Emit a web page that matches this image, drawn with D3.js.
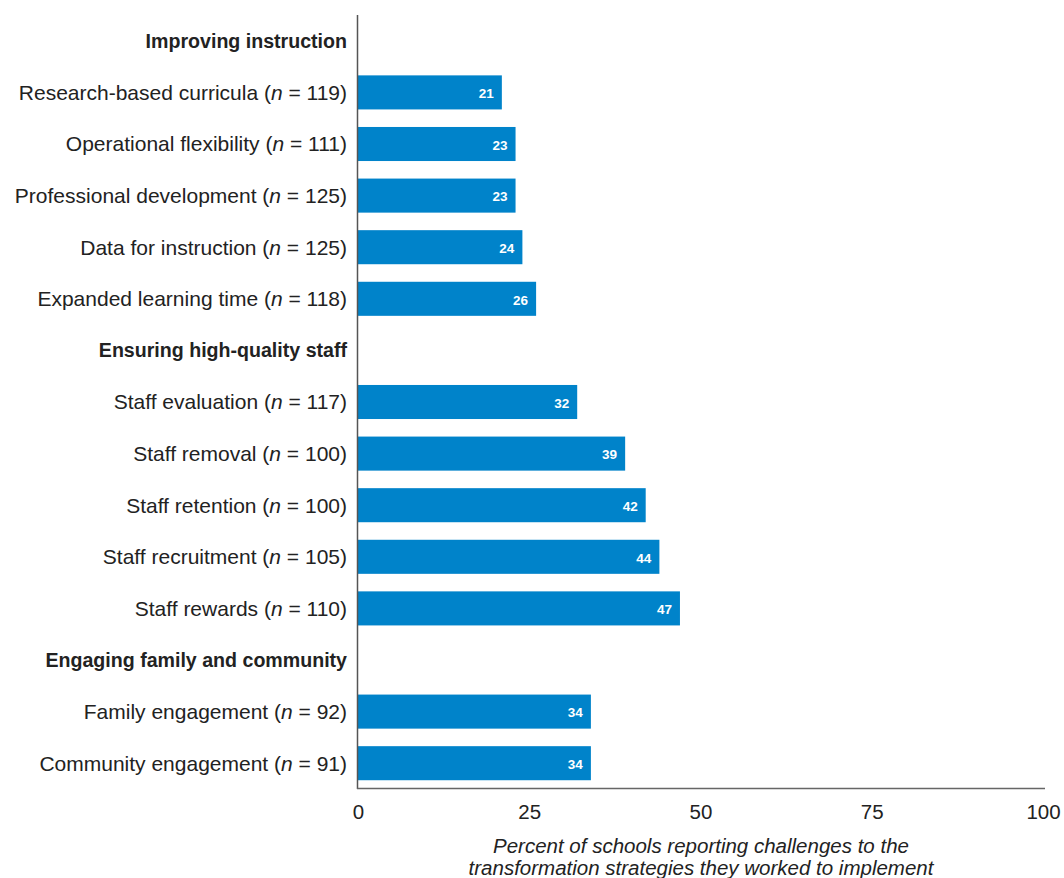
<!DOCTYPE html>
<html><head><meta charset="utf-8">
<script src="https://cdn.jsdelivr.net/npm/d3@7"></script>
<style>body{margin:0;background:#fff}svg{display:block}text{font-family:"Liberation Sans",Arial,sans-serif}</style>
</head><body><svg id="c" width="1064" height="878"></svg>
<script>
const rows = ["Improving instruction","Research-based curricula|119","Operational flexibility|111","Professional development|125","Data for instruction|125","Expanded learning time|118","Ensuring high-quality staff","Staff evaluation|117","Staff removal|100","Staff retention|100","Staff recruitment|105","Staff rewards|110","Engaging family and community","Family engagement|92","Community engagement|91"];
const values = [null,21,23,23,24,26,null,32,39,42,44,47,null,34,34];
const xTicks = [0,25,50,75,100];
const axisTitle = ["Percent of schools reporting challenges to the","transformation strategies they worked to implement"];

const svg = d3.select("#c");
const x = d3.scaleLinear().domain([0,100]).range([358,1043]);
const y = d3.scaleBand().domain(d3.range(rows.length)).range([15,789]).paddingInner(0.34).paddingOuter(0.17);

rows.forEach((r,i)=>{
  const v = values[i];
  const cy = y(i)+y.bandwidth()/2;
  const g = svg.append("text").attr("x",347).attr("y",cy).attr("dy","0.35em").attr("text-anchor","end")
    .attr("font-size",21).attr("fill","#222");
  if (v===null){
    g.attr("font-weight","bold").attr("font-size",19.6).text(r);
  } else {
    const [name,n] = r.split("|");
    g.append("tspan").text(name+" (");
    g.append("tspan").attr("font-style","italic").text("n");
    g.append("tspan").text(" = "+n+")");
    svg.append("rect").attr("x",x(0)).attr("y",y(i)).attr("width",x(v)-x(0)).attr("height",y.bandwidth()).attr("fill","#0083CA");
    svg.append("text").attr("x",x(v)-8).attr("y",cy+1).attr("dy","0.35em").attr("text-anchor","end")
      .attr("font-size",13.5).attr("font-weight","bold").attr("fill","#fff").text(v);
  }
});

svg.append("line").attr("x1",357.5).attr("x2",357.5).attr("y1",15).attr("y2",789).attr("stroke","#555").attr("stroke-width",1.5);
svg.append("line").attr("x1",357).attr("x2",1045).attr("y1",788.5).attr("y2",788.5).attr("stroke","#666").attr("stroke-width",1.5);

const xa = svg.append("g").attr("transform","translate(0,789)").call(d3.axisBottom(x).tickValues(xTicks).tickSize(0).tickPadding(15));
xa.select(".domain").remove();
xa.selectAll("text").attr("font-size",20.5).attr("fill","#222").attr("font-family","'Liberation Sans',Arial,sans-serif");

svg.append("text").attr("x",701).attr("y",853).attr("text-anchor","middle").attr("font-style","italic").attr("font-size",20.5).attr("fill","#222")
  .selectAll("tspan").data(axisTitle).join("tspan").attr("x",701).attr("dy",(d,i)=>i?22:0).text(d=>d);
</script></body></html>
